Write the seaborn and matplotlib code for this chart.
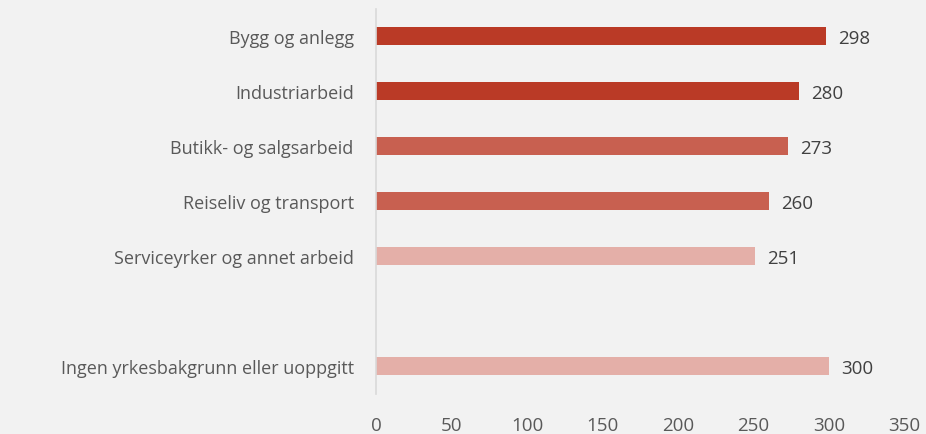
import matplotlib
matplotlib.use("Agg")
import matplotlib.pyplot as plt
import numpy as np
import pandas as pd
import seaborn as sns

categories = [
    "Bygg og anlegg",
    "Industriarbeid",
    "Butikk- og salgsarbeid",
    "Reiseliv og transport",
    "Serviceyrker og annet arbeid",
    " ",
    "Ingen yrkesbakgrunn eller uoppgitt",
]
values = [298, 280, 273, 260, 251, np.nan, 300]
shade = ["dark", "dark", "mid", "mid", "light", "light", "light"]
xticks = [0, 50, 100, 150, 200, 250, 300, 350]

palette = {"dark": "#BA3A26", "mid": "#C86050", "light": "#E4AFA8"}
bg = "#F2F2F2"

sns.set_style("white")
plt.rcParams["font.family"] = ["Open Sans", "DejaVu Sans"]

df = pd.DataFrame({"cat": categories, "val": values, "shade": shade})

fig = plt.figure(figsize=(9.26, 4.35), dpi=100, facecolor=bg)
ax = fig.add_axes([0.406, 0.093, 0.571, 0.885], facecolor=bg)

sns.barplot(data=df, y="cat", x="val", hue="shade", palette=palette,
            orient="h", width=0.34, dodge=False, legend=False,
            saturation=1, linewidth=0, ax=ax)

# value labels
for i, v in enumerate(values):
    if not np.isnan(v):
        ax.text(v + 8, i + 0.03, f"{v:.0f}", va="center", ha="left",
                fontsize=13.5, color="#404040")

ax.set_xlim(0, 350)
ax.set_ylim(6.5, -0.5)
ax.set_xticks(xticks)
ax.set_xticklabels([str(t) for t in xticks])
ax.set_xlabel("")
ax.set_ylabel("")
ax.tick_params(axis="both", length=0, colors="#595959")
ax.tick_params(axis="x", pad=16, labelsize=13.5)
ax.tick_params(axis="y", pad=16, labelsize=13)

for s in ["top", "right", "bottom"]:
    ax.spines[s].set_visible(False)
ax.spines["left"].set_color("#D9D9D9")
ax.spines["left"].set_linewidth(1.2)

plt.savefig("out.png", dpi=100, facecolor=bg)
